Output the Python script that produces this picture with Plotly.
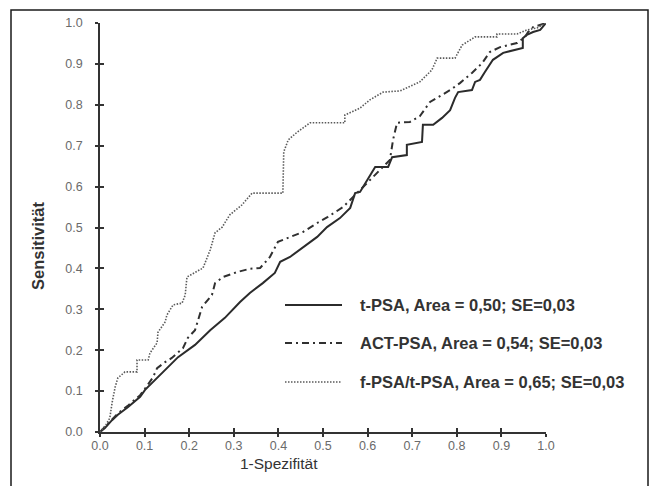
import plotly.graph_objects as go

# ---- data ----
t_psa_x = [0, 0.011, 0.027, 0.040, 0.063, 0.090, 0.101, 0.139, 0.175, 0.213, 0.247, 0.280, 0.314, 0.336,
           0.365, 0.392, 0.404, 0.426, 0.455, 0.487, 0.509, 0.538, 0.561, 0.572, 0.583, 0.605, 0.617, 0.646,
           0.655, 0.688, 0.688, 0.722, 0.724, 0.747, 0.767, 0.785, 0.796, 0.803, 0.834, 0.841, 0.852, 0.863,
           0.874, 0.881, 0.904, 0.930, 0.948, 0.948, 0.957, 0.971, 0.987, 1.0]
t_psa_y = [0, 0.010, 0.029, 0.042, 0.061, 0.086, 0.103, 0.144, 0.183, 0.213, 0.249, 0.279, 0.318, 0.340,
           0.364, 0.389, 0.416, 0.428, 0.452, 0.477, 0.501, 0.523, 0.548, 0.584, 0.587, 0.628, 0.648, 0.648,
           0.672, 0.677, 0.702, 0.709, 0.751, 0.751, 0.768, 0.787, 0.817, 0.831, 0.836, 0.856, 0.861, 0.880,
           0.897, 0.910, 0.927, 0.934, 0.939, 0.963, 0.971, 0.978, 0.983, 1.0]

act_psa_x = [0, 0.011, 0.027, 0.040, 0.063, 0.090, 0.101, 0.119, 0.128, 0.146, 0.161, 0.186, 0.197, 0.213,
             0.229, 0.251, 0.258, 0.276, 0.307, 0.336, 0.359, 0.381, 0.399, 0.426, 0.455, 0.487, 0.511, 0.545,
             0.576, 0.599, 0.628, 0.650, 0.657, 0.666, 0.695, 0.717, 0.740, 0.758, 0.785, 0.807, 0.834, 0.857,
             0.874, 0.897, 0.919, 0.935, 0.953, 0.960, 0.971, 1.0]
act_psa_y = [0, 0.012, 0.031, 0.045, 0.065, 0.090, 0.106, 0.134, 0.156, 0.171, 0.181, 0.205, 0.230, 0.249,
             0.306, 0.335, 0.364, 0.379, 0.391, 0.399, 0.401, 0.428, 0.465, 0.477, 0.489, 0.511, 0.526, 0.550,
             0.584, 0.611, 0.641, 0.665, 0.714, 0.756, 0.758, 0.772, 0.807, 0.819, 0.836, 0.853, 0.878, 0.902,
             0.929, 0.941, 0.946, 0.951, 0.966, 0.978, 0.990, 1.0]

f_t_psa_x = [0, 0.013, 0.022, 0.027, 0.034, 0.040, 0.056, 0.083, 0.083, 0.108, 0.112, 0.128, 0.130, 0.146,
             0.150, 0.164, 0.184, 0.191, 0.195, 0.231, 0.247, 0.258, 0.274, 0.291, 0.318, 0.341, 0.410, 0.412,
             0.422, 0.442, 0.471, 0.549, 0.549, 0.583, 0.605, 0.635, 0.673, 0.717, 0.744, 0.756, 0.796, 0.812,
             0.841, 0.890, 0.890, 0.935, 0.957, 0.980, 1.0]
f_t_psa_y = [0, 0.017, 0.034, 0.071, 0.110, 0.132, 0.147, 0.147, 0.176, 0.176, 0.193, 0.218, 0.244, 0.269,
             0.286, 0.311, 0.315, 0.335, 0.379, 0.401, 0.445, 0.487, 0.501, 0.531, 0.555, 0.584, 0.584, 0.685,
             0.714, 0.733, 0.756, 0.756, 0.775, 0.792, 0.812, 0.831, 0.834, 0.856, 0.885, 0.914, 0.914, 0.946,
             0.966, 0.966, 0.973, 0.973, 0.983, 0.988, 1.0]

series_names = ["t-PSA, Area = 0,50; SE=0,03",
                "ACT-PSA, Area = 0,54; SE=0,03",
                "f-PSA/t-PSA, Area = 0,65; SE=0,03"]
tick_vals = [0.0, 0.1, 0.2, 0.3, 0.4, 0.5, 0.6, 0.7, 0.8, 0.9, 1.0]
x_title = "1-Spezifität"
y_title = "Sensitivität"

# ---- styles ----
FONT = "Liberation Sans, Arial, sans-serif"
styles = [
    dict(color="#2b2b2b", width=2.0, dash="solid"),
    dict(color="#303030", width=2.0, dash="7px,4px,2px,4px"),
    dict(color="#5a5a5a", width=1.6, dash="1.5px,1.5px"),
]
series = [(t_psa_x, t_psa_y), (act_psa_x, act_psa_y), (f_t_psa_x, f_t_psa_y)]

fig = go.Figure()
for (xs, ys), name, st in zip(series, series_names, styles):
    fig.add_trace(go.Scatter(x=xs, y=ys, mode="lines", name=name, line=st,
                             showlegend=False, hoverinfo="skip"))

# helper trace to activate the overlay axes (inward half of crossing ticks)
fig.add_trace(go.Scatter(x=[None], y=[None], xaxis="x2", yaxis="y2", showlegend=False,
                         hoverinfo="skip"))

W, H = 652, 486
L, R, T, B = 100, 106, 23, 54
pw, ph = W - L - R, H - T - B

def px_to_paper(px, py):
    return (px - L) / pw, (H - B - py) / ph

tickfont = dict(size=12.5, color="#6a6a6a", family=FONT)
axis_common = dict(range=[0, 1], tickvals=tick_vals, showgrid=False, zeroline=False)
fig.update_layout(
    width=W, height=H,
    margin=dict(l=L, r=R, t=T, b=B),
    paper_bgcolor="white", plot_bgcolor="white",
    font=dict(family=FONT, color="#333"),
    xaxis=dict(**axis_common, showline=True, linecolor="#333", linewidth=1.6,
               ticks="outside", ticklen=3, tickwidth=1.6, tickcolor="#333",
               tickformat=".1f", tickfont=tickfont, ticklabelstandoff=-2),
    yaxis=dict(**axis_common, showline=True, linecolor="#333", linewidth=1.6,
               ticks="outside", ticklen=3, tickwidth=1.6, tickcolor="#333",
               tickformat=".1f", tickfont=tickfont, ticklabelstandoff=10),
    xaxis2=dict(**axis_common, overlaying="x", matches="x", showline=False,
                ticks="inside", ticklen=4, tickwidth=1.6, tickcolor="#333",
                showticklabels=False, anchor="y2", side="bottom"),
    yaxis2=dict(**axis_common, overlaying="y", matches="y", showline=False,
                ticks="inside", ticklen=4, tickwidth=1.6, tickcolor="#333",
                showticklabels=False, anchor="x2", side="left"),
    showlegend=False,
)

# outer frame of the figure
fx0, fy1 = px_to_paper(11, 10)
fx1, fy0 = px_to_paper(648, 492)
fig.add_shape(type="rect", xref="paper", yref="paper", x0=fx0, x1=fx1, y0=fy0, y1=fy1,
              line=dict(color="#1a1a1a", width=1.5), layer="below")

# axis titles
ax, ay = px_to_paper(38, 245)
fig.add_annotation(xref="paper", yref="paper", x=ax, y=ay, xanchor="center", yanchor="middle",
                   text="<b>%s</b>" % y_title, textangle=-90, showarrow=False,
                   font=dict(size=16.5, color="#333", family=FONT))
bx, by = px_to_paper(279, 464)
fig.add_annotation(xref="paper", yref="paper", x=bx, y=by, xanchor="center", yanchor="middle",
                   text=x_title, showarrow=False, font=dict(size=15.5, color="#333", family=FONT))

# manual legend (sample line + label)
rows_py = [305, 343, 382]
for name, st, py in zip(series_names, styles, rows_py):
    lx0, ly = px_to_paper(285, py)
    lx1, _ = px_to_paper(342, py)
    fig.add_shape(type="line", xref="paper", yref="paper", x0=lx0, x1=lx1, y0=ly, y1=ly,
                  line=st)
    tx, _ = px_to_paper(358, py)
    fig.add_annotation(xref="paper", yref="paper", x=tx, y=ly, xanchor="left", yanchor="middle",
                       text="<b>%s</b>" % name, showarrow=False,
                       font=dict(size=16.5, color="#333", family=FONT))

fig.write_html("out.html", config={"displayModeBar": False},
               post_script="document.body.style.margin='0';document.body.style.overflow='hidden';")
